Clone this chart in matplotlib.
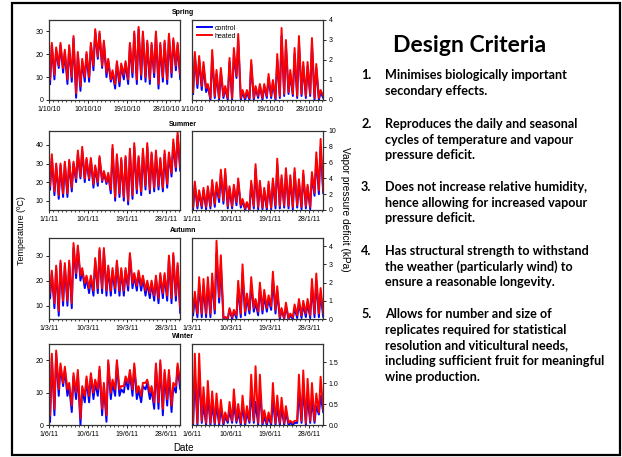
import numpy as np
import matplotlib
matplotlib.use("Agg")
import matplotlib.pyplot as plt
from matplotlib.patches import Rectangle

# ---- daily extremes (one value per day, 31 days per season) ----
# air temperature (ºC)
spring_t_heat_max = [25, 23, 25, 22, 24, 28, 21, 18, 21, 25, 31, 30, 26, 18, 13, 17, 16, 17, 25, 30, 32, 30, 26, 25, 30, 25, 26, 29, 27, 25, 17]
spring_t_heat_min = [9, 11, 15, 14, 9, 10, 3, 6, 10, 10, 15, 19, 15, 12, 9, 7, 8, 11, 9, 12, 9, 11, 10, 9, 12, 7, 10, 9, 12, 15, 11]
spring_t_ctrl_max = [24, 22, 24, 21, 23, 27, 20, 17, 20, 24, 30, 29, 25, 17, 12, 16, 15, 16, 24, 29, 31, 29, 25, 24, 29, 24, 25, 28, 26, 24, 16]
spring_t_ctrl_min = [7, 9, 14, 12, 7, 8, 1, 4, 8, 8, 13, 18, 14, 10, 8, 5, 6, 9, 7, 10, 7, 9, 8, 7, 10, 5, 8, 7, 10, 13, 9]

summer_t_heat_max = [35, 30, 30, 31, 32, 31, 37, 39, 33, 33, 29, 34, 26, 25, 40, 35, 33, 34, 38, 41, 34, 38, 41, 36, 37, 33, 37, 36, 43, 47, 38]
summer_t_heat_min = [18, 15, 13, 14, 14, 17, 22, 23, 22, 22, 19, 20, 21, 20, 16, 12, 14, 12, 10, 13, 16, 15, 18, 16, 17, 18, 17, 19, 25, 28, 28]
summer_t_ctrl_max = [33, 29, 29, 30, 31, 30, 35, 37, 32, 32, 28, 33, 25, 24, 38, 34, 32, 33, 36, 39, 33, 36, 39, 35, 35, 32, 35, 35, 41, 45, 37]
summer_t_ctrl_min = [16, 13, 11, 12, 12, 15, 20, 22, 20, 21, 17, 18, 20, 19, 14, 10, 12, 10, 8, 11, 14, 13, 16, 14, 15, 16, 15, 17, 23, 26, 26]

autumn_t_heat_max = [24, 26, 28, 27, 28, 35, 34, 25, 22, 22, 29, 33, 33, 26, 25, 28, 25, 25, 31, 23, 24, 22, 20, 20, 22, 23, 23, 30, 31, 27, 24]
autumn_t_heat_min = [15, 11, 8, 12, 12, 11, 23, 22, 19, 17, 16, 17, 17, 16, 16, 17, 16, 16, 18, 19, 18, 18, 16, 15, 14, 13, 15, 14, 13, 14, 9]
autumn_t_ctrl_max = [23, 25, 27, 26, 27, 33, 33, 24, 21, 21, 28, 32, 32, 25, 24, 27, 24, 24, 30, 22, 23, 21, 19, 19, 21, 22, 22, 29, 30, 26, 23]
autumn_t_ctrl_min = [13, 9, 6, 10, 10, 9, 21, 20, 17, 15, 14, 15, 15, 14, 14, 15, 14, 14, 16, 17, 16, 16, 14, 13, 12, 11, 13, 12, 11, 12, 7]

winter_t_heat_max = [22, 23, 19, 18, 13, 16, 17, 12, 15, 16, 14, 18, 13, 20, 14, 20, 12, 15, 17, 19, 12, 13, 14, 12, 19, 20, 17, 17, 13, 19, 12]
winter_t_heat_min = [3, 5, 11, 13, 11, 6, 10, 2, 9, 9, 10, 11, 5, 3, 10, 11, 11, 12, 13, 11, 10, 9, 13, 10, 7, 7, 5, 8, 6, 12, 13]
winter_t_ctrl_max = [21, 22, 18, 17, 12, 15, 16, 11, 14, 15, 13, 17, 12, 19, 13, 19, 11, 14, 16, 18, 11, 12, 13, 11, 18, 19, 16, 16, 12, 18, 11]
winter_t_ctrl_min = [1, 3, 9, 12, 9, 4, 8, 0, 7, 7, 8, 9, 3, 1, 8, 9, 9, 10, 11, 9, 8, 7, 11, 8, 5, 5, 3, 6, 4, 10, 11]

# vapour pressure deficit (kPa)
spring_v_heat_max = [2.4, 2.2, 1.9, 0.8, 2.5, 1.5, 1.6, 0.7, 2.1, 2.6, 3.3, 0.5, 0.5, 2.0, 0.7, 0.8, 0.8, 1.3, 1.0, 2.3, 3.6, 3.0, 1.5, 2.6, 3.2, 1.9, 1.9, 3.1, 1.8, 0.5, 0.4]
spring_v_heat_min = [0.4, 0.8, 0.7, 0.6, 0.1, 0.2, 0.1, 0.2, 0.1, 0.1, 1.2, 0.1, 0.1, 0.1, 0.1, 0.2, 0.1, 0.2, 0.2, 0.1, 0.2, 0.3, 0.4, 0.3, 0.2, 0.3, 0.2, 0.3, 0.1, 0.1, 0.2]
spring_v_ctrl_max = [2.2, 2.0, 1.7, 0.7, 2.2, 1.3, 1.4, 0.6, 1.9, 2.3, 3.0, 0.4, 0.4, 1.8, 0.6, 0.7, 0.7, 1.1, 0.9, 2.0, 3.2, 2.7, 1.3, 2.3, 2.9, 1.7, 1.7, 2.8, 1.6, 0.4, 0.3]
spring_v_ctrl_min = [0.3, 0.6, 0.5, 0.4, 0.0, 0.1, 0.0, 0.1, 0.0, 0.0, 1.1, 0.0, 0.0, 0.0, 0.0, 0.1, 0.0, 0.1, 0.1, 0.0, 0.1, 0.2, 0.3, 0.2, 0.1, 0.2, 0.1, 0.2, 0.0, 0.0, 0.1]

summer_v_heat_max = [3.6, 2.5, 2.8, 3.0, 3.8, 3.5, 5.1, 5.2, 3.0, 3.2, 4.0, 1.4, 1.0, 3.7, 5.8, 3.7, 2.8, 3.6, 4.0, 6.5, 4.4, 5.3, 4.4, 5.3, 3.9, 5.0, 3.2, 4.8, 7.3, 9.0, 5.0]
summer_v_heat_min = [0.3, 0.5, 0.5, 0.4, 0.5, 0.8, 1.5, 1.2, 0.5, 0.5, 1.0, 0.6, 0.2, 0.1, 0.5, 0.4, 0.3, 0.3, 0.3, 0.6, 0.5, 0.6, 0.5, 0.4, 0.6, 0.4, 0.5, 0.4, 2.2, 2.5, 2.4]
summer_v_ctrl_max = [3.2, 2.2, 2.5, 2.7, 3.4, 3.1, 4.6, 4.7, 2.7, 2.9, 3.6, 1.2, 0.9, 3.3, 5.2, 3.3, 2.5, 3.2, 3.6, 5.8, 4.0, 4.8, 4.0, 4.8, 3.5, 4.5, 2.9, 4.3, 6.5, 8.0, 4.5]
summer_v_ctrl_min = [0.1, 0.2, 0.2, 0.1, 0.2, 0.4, 1.0, 0.8, 0.2, 0.2, 0.6, 0.3, 0.0, 0.0, 0.2, 0.1, 0.1, 0.0, 0.1, 0.2, 0.2, 0.3, 0.2, 0.1, 0.3, 0.1, 0.2, 0.1, 1.8, 2.0, 2.1]

autumn_v_heat_max = [1.5, 2.3, 2.2, 2.3, 2.5, 4.3, 3.5, 0.1, 0.6, 0.5, 2.1, 3.0, 1.4, 2.3, 1.1, 2.0, 1.6, 1.3, 2.6, 1.8, 0.6, 0.9, 0.3, 0.8, 1.1, 1.0, 1.1, 2.2, 2.5, 1.7, 0.4]
autumn_v_heat_min = [0.4, 0.3, 0.3, 0.3, 0.3, 0.5, 1.2, 0.05, 0.05, 0.1, 0.2, 0.3, 0.4, 0.5, 0.6, 0.4, 0.5, 0.6, 0.7, 0.5, 0.1, 0.05, 0.05, 0.1, 0.2, 0.2, 0.3, 0.2, 0.3, 0.3, 0.3]
autumn_v_ctrl_max = [1.2, 1.9, 1.8, 1.9, 2.1, 3.6, 3.0, 0.1, 0.5, 0.4, 1.7, 2.5, 1.2, 1.9, 0.9, 1.7, 1.3, 1.1, 2.2, 1.5, 0.5, 0.7, 0.2, 0.6, 0.9, 0.8, 0.9, 1.8, 2.1, 1.4, 0.3]
autumn_v_ctrl_min = [0.2, 0.1, 0.1, 0.1, 0.1, 0.3, 0.9, 0.0, 0.0, 0.0, 0.05, 0.1, 0.2, 0.3, 0.4, 0.2, 0.3, 0.4, 0.5, 0.3, 0.0, 0.0, 0.0, 0.0, 0.05, 0.05, 0.1, 0.05, 0.1, 0.1, 0.1]

winter_v_heat_max = [1.7, 1.7, 0.9, 1.05, 0.8, 0.75, 0.6, 0.3, 0.55, 0.85, 0.5, 0.7, 0.45, 1.2, 1.4, 1.2, 0.35, 0.3, 1.0, 0.7, 0.65, 0.45, 0.1, 0.1, 1.2, 1.3, 1.1, 1.0, 0.75, 1.15, 0.4]
winter_v_heat_min = [0.05, 0.05, 0.1, 0.05, 0.05, 0.05, 0.05, 0.05, 0.1, 0.1, 0.1, 0.05, 0.05, 0.1, 0.1, 0.05, 0.05, 0.05, 0.05, 0.05, 0.05, 0.05, 0.05, 0.05, 0.1, 0.1, 0.05, 0.1, 0.1, 0.3, 0.35]
winter_v_ctrl_max = [1.2, 1.3, 0.5, 0.7, 0.5, 0.5, 0.4, 0.2, 0.35, 0.5, 0.3, 0.45, 0.3, 0.8, 0.55, 0.8, 0.2, 0.2, 0.6, 0.45, 0.4, 0.3, 0.05, 0.05, 0.8, 0.9, 0.7, 0.6, 0.45, 0.7, 0.3]
winter_v_ctrl_min = [0.0, 0.0, 0.05, 0.0, 0.0, 0.0, 0.0, 0.0, 0.05, 0.05, 0.05, 0.0, 0.0, 0.05, 0.05, 0.0, 0.0, 0.0, 0.0, 0.0, 0.0, 0.0, 0.0, 0.0, 0.05, 0.05, 0.0, 0.05, 0.05, 0.25, 0.3]

seasons = ["Spring", "Summer", "Autumn", "Winter"]
date_labels = [
    ["1/10/10", "10/10/10", "19/10/10", "28/10/10"],
    ["1/1/11", "10/1/11", "19/1/11", "28/1/11"],
    ["1/3/11", "10/3/11", "19/3/11", "28/3/11"],
    ["1/6/11", "10/6/11", "19/6/11", "28/6/11"],
]
label_days = [0, 9, 18, 27]

temp_data = [
    (spring_t_ctrl_min, spring_t_ctrl_max, spring_t_heat_min, spring_t_heat_max),
    (summer_t_ctrl_min, summer_t_ctrl_max, summer_t_heat_min, summer_t_heat_max),
    (autumn_t_ctrl_min, autumn_t_ctrl_max, autumn_t_heat_min, autumn_t_heat_max),
    (winter_t_ctrl_min, winter_t_ctrl_max, winter_t_heat_min, winter_t_heat_max),
]
vpd_data = [
    (spring_v_ctrl_min, spring_v_ctrl_max, spring_v_heat_min, spring_v_heat_max),
    (summer_v_ctrl_min, summer_v_ctrl_max, summer_v_heat_min, summer_v_heat_max),
    (autumn_v_ctrl_min, autumn_v_ctrl_max, autumn_v_heat_min, autumn_v_heat_max),
    (winter_v_ctrl_min, winter_v_ctrl_max, winter_v_heat_min, winter_v_heat_max),
]
temp_ylim = [(0, 35), (5, 47.5), (4.7, 37), (0, 25)]
temp_ticks = [[0, 10, 20, 30], [10, 20, 30, 40], [10, 20, 30], [0, 10, 20]]
vpd_ylim = [(0, 4), (0, 10), (0, 4.45), (0, 1.93)]
vpd_ticks = [[0, 1, 2, 3, 4], [0, 2, 4, 6, 8, 10], [0, 1, 2, 3, 4], [0.0, 0.5, 1.0, 1.5]]

criteria = [
    ["Minimises biologically important", "secondary effects."],
    ["Reproduces the daily and seasonal", "cycles of temperature and vapour", "pressure deficit."],
    ["Does not increase relative humidity,", "hence allowing for increased vapour", "pressure deficit."],
    ["Has structural strength to withstand", "the weather (particularly wind) to", "ensure a reasonable longevity."],
    ["Allows for number and size of", "replicates required for statistical",
     "resolution and viticultural needs,", "including sufficient fruit for meaningful",
     "wine production."],
]

W, H = 622, 457
CTRL = "#0000ff"
HEAT = "#ff0000"
TICK_FONT = "Liberation Sans"
SLIDE_FONT = "Lato"


def daily_trace(lows, highs):
    # dawn minimum then afternoon maximum for each day
    t, v = [], []
    for d, (lo, hi) in enumerate(zip(lows, highs)):
        t += [d + 0.25, d + 0.65]
        v += [lo, hi]
    return np.array(t), np.array(v)


def px_axes(fig, x0, y0, x1, y1):
    return fig.add_axes([x0 / W, 1 - y1 / H, (x1 - x0) / W, (y1 - y0) / H])


def style_axes(ax, labels, yticks, ylim, right=False, fmt=None):
    ax.set_xlim(0, 30.2)
    ax.set_ylim(*ylim)
    ax.set_xticks(label_days)
    ax.set_xticklabels(labels)
    ax.set_xticks(np.arange(0, 31, 1), minor=True)
    ax.set_yticks(yticks)
    if fmt:
        ax.set_yticklabels([fmt % v for v in yticks])
    for s in ax.spines.values():
        s.set_linewidth(0.9)
        s.set_color("#333333")
    ax.tick_params(axis="both", which="major", direction="out", length=2.5, width=0.6,
                   labelsize=5, pad=1.5)
    ax.tick_params(axis="x", which="minor", direction="out", length=1.2, width=0.5)
    if right:
        ax.yaxis.tick_right()
    for lab in ax.get_xticklabels() + ax.get_yticklabels():
        lab.set_fontfamily(TICK_FONT)


fig = plt.figure(figsize=(W / 100, H / 100), dpi=100)

rows = [(20, 100), (131, 210), (238, 319), (344, 425)]
for i, (top, bot) in enumerate(rows):
    c_lo, c_hi, h_lo, h_hi = temp_data[i]
    ax = px_axes(fig, 49, top, 180, bot)
    t, v = daily_trace(c_lo, c_hi)
    ax.plot(t, v, color=CTRL, lw=1.4)
    t, v = daily_trace(h_lo, h_hi)
    ax.plot(t, v, color=HEAT, lw=1.4)
    style_axes(ax, date_labels[i], temp_ticks[i], temp_ylim[i])

    c_lo, c_hi, h_lo, h_hi = vpd_data[i]
    ax2 = px_axes(fig, 192, top, 323, bot)
    t, v = daily_trace(c_lo, c_hi)
    ax2.plot(t, v, color=CTRL, lw=1.4, label="control")
    t, v = daily_trace(h_lo, h_hi)
    ax2.plot(t, v, color=HEAT, lw=1.4, label="heated")
    style_axes(ax2, date_labels[i], vpd_ticks[i], vpd_ylim[i], right=True,
               fmt="%.1f" if i == 3 else None)
    if i == 0:
        ax2.legend(loc="upper left", frameon=False, handlelength=2.2,
                   handletextpad=0.4, labelspacing=0.1, borderaxespad=0.3,
                   prop={"family": TICK_FONT, "size": 5})

    fig.text(183 / W, 1 - (top - 7) / H, seasons[i], ha="center", va="center",
             fontsize=5, fontweight="bold", family=TICK_FONT)

fig.text(22 / W, 1 - 231 / H, "Temperature (ºC)", rotation=90, ha="center", va="center",
         fontsize=6.5, family=TICK_FONT)
fig.text(345 / W, 1 - 209 / H, "Vapor pressure deficit (kPa)", rotation=270, ha="center",
         va="center", fontsize=7.3, family=TICK_FONT)
fig.text(183 / W, 1 - 448 / H, "Date", ha="center", va="center", fontsize=7,
         family=TICK_FONT)

# slide frame
fig.patches.append(Rectangle((12 / W, 2 / H), 608 / W, 452 / H, transform=fig.transFigure,
                             fill=False, edgecolor="black", linewidth=1.6))

# right-hand text block
fig.text(470 / W, 1 - 45 / H, "Design Criteria", ha="center", va="center",
         fontsize=16.6, fontweight="bold", family=SLIDE_FONT)
item_baselines = [79, 128, 191, 255, 318]
line_step = 15.7
for k, (y0, lines) in enumerate(zip(item_baselines, criteria)):
    fig.text(361 / W, 1 - y0 / H, "%d." % (k + 1), ha="left", va="baseline",
             fontsize=9.1, fontweight="bold", family=SLIDE_FONT)
    for j, line in enumerate(lines):
        fig.text(385 / W, 1 - (y0 + j * line_step) / H, line, ha="left", va="baseline",
                 fontsize=9.1, fontweight="bold", family=SLIDE_FONT)

fig.savefig("out.png", dpi=100)
